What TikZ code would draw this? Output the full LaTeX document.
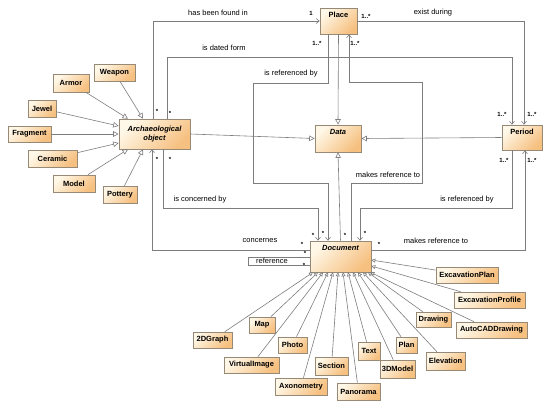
\documentclass[tikz,border=0pt]{standalone}
\usepackage{fontspec}
\setmainfont{Liberation Sans}
\usepackage{tikz}
\usetikzlibrary{arrows.meta,shadows}

\definecolor{linegray}{RGB}{125,125,125}
\definecolor{clsborder}{RGB}{150,138,118}
\definecolor{clslight}{RGB}{255,248,232}
\definecolor{clsdark}{RGB}{246,192,128}

\tikzset{
    cls/.style={draw=clsborder, line width=0.6pt, top color=clslight, bottom color=clsdark, shading angle=45,
        drop shadow={shadow xshift=1.3pt, shadow yshift=-1.3pt, fill=black!30},
        font=\fontsize{7.5}{8.5}\selectfont\bfseries, inner sep=2pt},
    boxsize/.style 2 args={minimum width=#1pt, minimum height=#2pt},
    maincls/.style={cls, text height=7pt, text depth=#1},
    lbl/.style={font=\fontsize{7.5}{8.5}\selectfont, inner sep=0pt},
    mult/.style={font=\fontsize{6}{6}\selectfont\bfseries, inner sep=0pt},
    assoc/.style={draw=linegray, line width=0.6pt, -{Straight Barb[length=3pt,width=5pt]}},
    plainline/.style={draw=linegray, line width=0.6pt},
    inherit/.style={draw=linegray, line width=0.6pt, -{Triangle[open,length=#1,width=#1]}},
    inherit/.default=5.5pt
}

\begin{document}
\begin{tikzpicture}[x=1pt, y=-1pt]
    \useasboundingbox (0,0) rectangle (550,408);

    \node[maincls=15pt, boxsize={37}{26}] (place) at (338.5,21) {Place};
    \node[maincls=14pt, boxsize={40}{25}] (period) at (522,137.5) {Period};
    \node[maincls=16pt, boxsize={46}{27}, font=\fontsize{7.5}{8.5}\selectfont\bfseries\itshape] (data) at (338,138.5) {Data};
    \node[maincls=20pt, boxsize={61}{31}, font=\fontsize{7.5}{8.5}\selectfont\bfseries\itshape] (doc) at (340.5,256.5) {Document};
    \node[cls, boxsize={71}{30}, align=center, font=\fontsize{7.5}{8.5}\selectfont\bfseries\itshape] (arch) at (154.5,134) {Archaeological\\object};

    \node[cls, boxsize={41}{17}] (weapon) at (114.5,72.5) {Weapon};
    \node[cls, boxsize={36}{18}] (armor) at (71,83) {Armor};
    \node[cls, boxsize={28}{17}] (jewel) at (42,108.5) {Jewel};
    \node[cls, boxsize={43}{16}] (fragment) at (29.5,134) {Fragment};
    \node[cls, boxsize={49}{17}] (ceramic) at (52.5,158.5) {Ceramic};
    \node[cls, boxsize={42}{17}] (model) at (74,183.5) {Model};
    \node[cls, boxsize={34}{17}] (pottery) at (120,194.5) {Pottery};

    \node[cls, boxsize={62}{16}] (excplan) at (467,275) {ExcavationPlan};
    \node[cls, boxsize={71}{16}] (excprofile) at (489.5,300) {ExcavationProfile};
    \node[cls, boxsize={35}{15}] (drawing) at (433.5,319.5) {Drawing};
    \node[cls, boxsize={71}{16}] (autocad) at (491.5,330) {AutoCADDrawing};
    \node[cls, boxsize={39}{16}] (graph) at (212.5,340) {2DGraph};
    \node[cls, boxsize={26}{16}] (map) at (262,325) {Map};
    \node[cls, boxsize={29}{16}] (photo) at (292.5,345) {Photo};
    \node[cls, boxsize={55}{16}] (virtual) at (251.5,365) {VirtualImage};
    \node[cls, boxsize={52}{17}] (axono) at (301,386.5) {Axonometry};
    \node[cls, boxsize={33}{18}] (section) at (331.5,366) {Section};
    \node[cls, boxsize={43}{17}] (panorama) at (358.5,391.5) {Panorama};
    \node[cls, boxsize={22}{18}] (txt) at (369,351) {Text};
    \node[cls, boxsize={35}{18}] (model3d) at (397.5,369) {3DModel};
    \node[cls, boxsize={21}{16}] (plan) at (406.5,345) {Plan};
    \node[cls, boxsize={39}{18}] (elevation) at (445.5,361) {Elevation};

    \draw[inherit] (weapon) -- ([xshift=-11.5pt]arch.north);
    \draw[inherit] (armor) -- ([xshift=-26.5pt]arch.north);
    \draw[inherit] (jewel) -- ([yshift=8pt]arch.west);
    \draw[inherit] (fragment) -- (arch.west);
    \draw[inherit] (ceramic) -- ([yshift=-9pt]arch.west);
    \draw[inherit] (model) -- ([xshift=-26.5pt]arch.south);
    \draw[inherit] (pottery) -- ([xshift=-11.5pt]arch.south);

    \draw[inherit] (arch.east) -- (data.west);
    \draw[inherit] (period.west) -- (data.east);
    \draw[inherit] (place.south) -- (data.north);
    \draw[inherit] (doc.north) -- (data.south);

    \draw[inherit=4pt] (graph) -- ([xshift=-27.5pt]doc.south);
    \draw[inherit=4pt] (map) -- ([xshift=-22.5pt]doc.south);
    \draw[inherit=4pt] (virtual) -- ([xshift=-17.5pt]doc.south);
    \draw[inherit=4pt] (photo) -- ([xshift=-12.5pt]doc.south);
    \draw[inherit=4pt] (axono) -- ([xshift=-7.5pt]doc.south);
    \draw[inherit=4pt] (section) -- ([xshift=-2.5pt]doc.south);
    \draw[inherit=4pt] (panorama) -- ([xshift=2.5pt]doc.south);
    \draw[inherit=4pt] (txt) -- ([xshift=7.5pt]doc.south);
    \draw[inherit=4pt] (model3d) -- ([xshift=12.5pt]doc.south);
    \draw[inherit=4pt] (plan) -- ([xshift=17.5pt]doc.south);
    \draw[inherit=4pt] (elevation) -- ([xshift=22.5pt]doc.south);
    \draw[inherit=4pt] (drawing) -- ([xshift=27.5pt]doc.south);
    \draw[inherit=4pt] (autocad) -- ([xshift=-1pt]doc.south east);
    \draw[inherit=4pt] (excprofile) -- ([yshift=-9.5pt]doc.east);
    \draw[inherit=4pt] (excplan) -- ([yshift=-3.5pt]doc.east);

    \draw[assoc] ([xshift=-1.5pt]arch.north) |- (place.west);
    \draw[assoc] ([xshift=12.5pt]arch.north) |- (512,57) -- ([xshift=-10pt]period.north);
    \draw[assoc] (place.east) -| ([xshift=2pt]period.north);
    \draw[assoc] ([xshift=-10.5pt]place.south) |- (253,83) |- (328,183) -- ([xshift=-12.5pt]doc.north);
    \draw[assoc] ([xshift=10.5pt]doc.north) |- (422,183) |- (349,82) -- ([xshift=10.5pt]place.south);
    \draw[assoc] ([xshift=8.5pt]arch.south) |- (318,208) -- ([xshift=-22.5pt]doc.north);
    \draw[assoc] ([yshift=6.5pt]doc.west) -| ([xshift=-2.5pt]arch.south);
    \draw[plainline] ([yshift=-0.5pt]doc.west) -| (248,265) -- ([yshift=-8.5pt]doc.west);
    \draw[assoc] ([xshift=-10pt]period.south) |- (360,208) -- ([xshift=19.5pt]doc.north);
    \draw[assoc] ([yshift=6.5pt]doc.east) -| ([xshift=3pt]period.south);

    \node[lbl] (found) at (218,13) {has been found in};
    \node[lbl] (dated) at (224,48) {is dated form};
    \node[lbl] (during) at (433,13) {exist during};
    \node[lbl] (refby) at (291,74) {is referenced by};
    \node[lbl] (makesref) at (388,175) {makes reference to};
    \node[lbl] (concby) at (200,200) {is concerned by};
    \node[lbl] (concernes) at (260,241) {concernes};
    \node[lbl] (reference) at (272,261) {reference};
    \node[lbl] (makesreflow) at (436,241) {makes reference to};
    \node[lbl] (refbylow) at (467,200) {is referenced by};

    \node[mult] (m1) at (311,13) {1};
    \node[mult] (m2) at (366,16) {1..*};
    \node[mult] (m3) at (317,43) {1..*};
    \node[mult] (m4) at (355,43) {1..*};
    \node[mult] (m5) at (502,114) {1..*};
    \node[mult] (m6) at (532,114) {1..*};
    \node[mult] (m7) at (504,160) {1..*};
    \node[mult] (m8) at (532,160) {1..*};
    \node[mult] (s1) at (157,111) {*};
    \node[mult] (s2) at (170,113) {*};
    \node[mult] (s3) at (157,159) {*};
    \node[mult] (s4) at (170,159) {*};
    \node[mult] (s5) at (313,235) {*};
    \node[mult] (s6) at (323,233) {*};
    \node[mult] (s7) at (345,235) {*};
    \node[mult] (s8) at (365,233) {*};
    \node[mult] (s9) at (302,244) {*};
    \node[mult] (s10) at (305,253) {*};
    \node[mult] (s11) at (304,265) {*};
    \node[mult] (s12) at (379,244) {*};
\end{tikzpicture}
\end{document}
